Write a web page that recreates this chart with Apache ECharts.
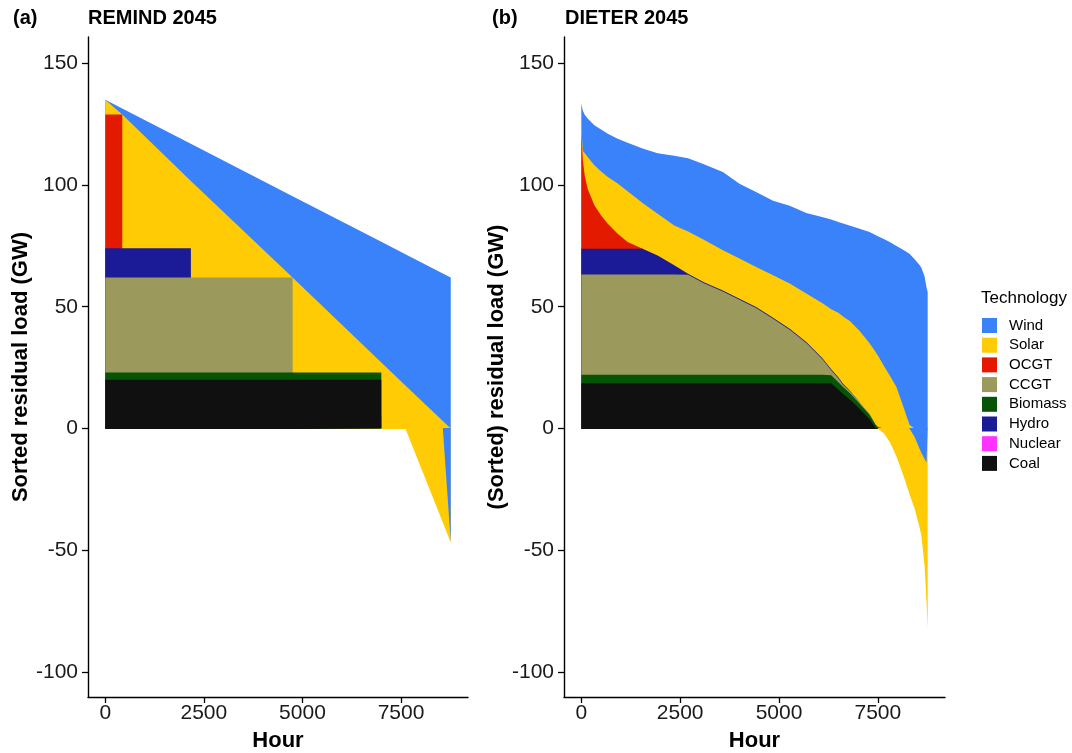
<!DOCTYPE html>
<html><head><meta charset="utf-8">
<script src="https://cdn.jsdelivr.net/npm/echarts@6/dist/echarts.min.js"></script>
<style>html,body{margin:0;padding:0;background:#fff}#c{width:1072px;height:753px}</style>
</head><body><div id="c"></div>
<script>
// ---------- legend / technologies ----------
const technologies = ['Wind', 'Solar', 'OCGT', 'CCGT', 'Biomass', 'Hydro', 'Nuclear', 'Coal'];
const stackOrder = ['Coal', 'Biomass', 'CCGT', 'Hydro', 'OCGT', 'Solar', 'Wind']; // bottom -> top
const xTicks = [0, 2500, 5000, 7500];
const yTicks = [-100, -50, 0, 50, 100, 150];

// ---------- panel (a) REMIND 2045 (GW per technology at each hour) ----------
const remindHours   = [0, 430, 431, 2170, 2171, 4750, 4751, 7000, 7001, 7610, 8560, 8760];
const remindCoal    = [20, 20, 20, 20, 20, 20, 20, 20, 0, 0, 0, 0];
const remindBiomass = [3, 3, 3, 3, 3, 3, 3, 3, 0, 0, 0, 0];
const remindCCGT    = [39, 39, 39, 39, 39, 39, 0, 0, 0, 0, 0, 0];
const remindHydro   = [12, 12, 12, 12, 0, 0, 0, 0, 0, 0, 0, 0];
const remindOCGT    = [55, 55, 0, 0, 0, 0, 0, 0, 0, 0, 0, 0];
const remindSolar   = [6, 0, 54.4, 27.6, 39.5, 0, 38.8, 4.1, 27.1, 17.7, 3.1, 0];
const remindWind    = [0, 2.4, 3.1, 15.4, 15.4, 33.4, 33.6, 49.6, 49.6, 53.9, 60.6, 62];
const remindWindNeg  = [0, 0, 0, 0, 0, 0, 0, 0, 0, 0, 0, -46.5];
const remindSolarNeg = [0, 0, 0, 0, 0, 0, 0, 0, 0, 0, -38.6, -0.3];

// ---------- panel (b) DIETER 2045 ----------
const dieterHours = [0, 40, 90, 160, 330, 500, 670, 920, 1170, 1550, 1930, 2350, 2700, 3100, 3580, 4000, 4420, 4850, 5270, 5690,
  6110, 6150, 6320, 6500, 6620, 6800, 7040, 7290, 7440, 7500, 7650, 7800, 7970, 8050, 8180, 8220, 8300, 8430, 8560, 8600, 8680, 8730, 8760];
const dieterCoal = [18.6, 18.6, 18.6, 18.6, 18.6, 18.6, 18.6, 18.6, 18.6, 18.6, 18.6, 18.6, 18.6, 18.6, 18.6, 18.6, 18.6, 18.6, 18.6, 18.6,
  18.6, 18.6, 18.6, 16, 14.2, 11.8, 8, 3.8, 0.3, 0, 0, 0, 0, 0, 0, 0, 0, 0, 0, 0, 0, 0, 0];
const dieterBiomass = [3.5, 3.5, 3.5, 3.5, 3.5, 3.5, 3.5, 3.5, 3.5, 3.5, 3.5, 3.5, 3.5, 3.5, 3.5, 3.5, 3.5, 3.5, 3.5, 3.5,
  3.5, 3.5, 3.3, 3, 2.8, 2.6, 2.2, 1.8, 1.2, 0.5, 0, 0, 0, 0, 0, 0, 0, 0, 0, 0, 0, 0, 0];
const dieterCCGT = [41.1, 41.1, 41.1, 41.1, 41.1, 41.1, 41.1, 41.1, 41.1, 41.1, 41.1, 41.1, 41.0, 37.6, 34.2, 30.8, 27.4, 23, 18.5, 13,
  6.1, 5.5, 2.0, 1.6, 1.0, 0.8, 0.6, 0.4, 0.3, 0.2, 0, 0, 0, 0, 0, 0, 0, 0, 0, 0, 0, 0, 0];
const dieterHydro = [10.6, 10.6, 10.6, 10.6, 10.6, 10.6, 10.6, 10.6, 10.6, 10.6, 7.9, 3.8, 0.5, 0.4, 0.4, 0.4, 0.4, 0.4, 0.4, 0.4,
  0.4, 0.4, 0.4, 0.4, 0.4, 0.2, 0, 0, 0, 0, 0, 0, 0, 0, 0, 0, 0, 0, 0, 0, 0, 0, 0];
const dieterOCGT = [48, 36.2, 29.7, 24.7, 17.9, 13.7, 10.3, 6.2, 2.8, 0, 0, 0, 0, 0, 0, 0, 0, 0, 0, 0,
  0, 0, 0, 0, 0, 0, 0, 0, 0, 0, 0, 0, 0, 0, 0, 0, 0, 0, 0, 0, 0, 0, 0];
const dieterSolar = [1.4, 4, 9.5, 13, 16.4, 18.1, 19.2, 20.6, 20.8, 18.8, 17.1, 16.4, 17.3, 17.4, 16.5, 16.5, 16.4, 17.4, 18.5, 19.9,
  22.7, 22.9, 24.7, 26.5, 27.6, 28.6, 29.2, 29, 29.7, 29.3, 25.8, 21.8, 17, 13.3, 7.3, 5.3, 1.5, 0, 0, 0, 0, 0, 0];
const dieterWind = [10.2, 16.5, 15.8, 15.8, 16.4, 17.2, 17.8, 18.4, 20, 22.4, 24.8, 28.6, 30.1, 31, 32.1, 30.7, 30.8, 30.6, 32, 33.1,
  35.5, 35.7, 36.8, 37.3, 38.2, 39.3, 42, 45.7, 48, 49, 52, 54.8, 58, 60.9, 65.7, 67.3, 70.3, 69.5, 67, 66, 62.5, 58, 56];
const dieterWindNeg = [0, 0, 0, 0, 0, 0, 0, 0, 0, 0, 0, 0, 0, 0, 0, 0, 0, 0, 0, 0,
  0, 0, 0, 0, 0, 0, 0, 0, 0, 0, 0, 0, 0, 0, 0, 0, 0, -3.5, -8.5, -10, -12.5, -14, -14.5];
const dieterSolarNeg = [0, 0, 0, 0, 0, 0, 0, 0, 0, 0, 0, 0, 0, 0, 0, 0, 0, 0, 0, 0,
  0, 0, 0, 0, 0, 0, 0, 0, 0, 0, -2, -5.5, -11.5, -15, -21, -23, -27, -29.5, -32.5, -34, -43.5, -57, -67.5];

// ---------- styling ----------
const colors = {
  Wind: '#3A82FA', Solar: '#FFCB05', OCGT: '#E31A00', CCGT: '#9B995C',
  Biomass: '#065406', Hydro: '#1B1A97', Nuclear: '#FF33FF', Coal: '#101010'
};
const FONT = '"Liberation Sans", Arial, Helvetica, sans-serif';

const panels = [
  { hours: remindHours,
    pos: { Coal: remindCoal, Biomass: remindBiomass, CCGT: remindCCGT, Hydro: remindHydro, OCGT: remindOCGT, Solar: remindSolar, Wind: remindWind },
    neg: { Wind: remindWindNeg, Solar: remindSolarNeg } },
  { hours: dieterHours,
    pos: { Coal: dieterCoal, Biomass: dieterBiomass, CCGT: dieterCCGT, Hydro: dieterHydro, OCGT: dieterOCGT, Solar: dieterSolar, Wind: dieterWind },
    neg: { Wind: dieterWindNeg, Solar: dieterSolarNeg } }
];

// keep a point only where the layer (or a neighbour) is non-zero, so no zero-height slivers are painted
function layerData(hours, own, cumVals) {
  return hours.map((h, i) => {
    const active = own[i] !== 0 || (i > 0 && own[i - 1] !== 0) || (i < own.length - 1 && own[i + 1] !== 0);
    return active ? [h, +cumVals[i].toFixed(3)] : [h, null];
  });
}

function areaSeries(name, idx, data, z, origin) {
  return {
    type: 'line', name: name, xAxisIndex: idx, yAxisIndex: idx,
    data: data, connectNulls: false,
    showSymbol: false, symbol: 'none', silent: true, animation: false,
    lineStyle: { width: 0, opacity: 0 },
    itemStyle: { color: colors[name] },
    areaStyle: { color: colors[name], opacity: 1, origin: origin },
    z: z
  };
}

const series = [];
panels.forEach((p, idx) => {
  // cumulative stack of positive parts (bottom -> top), painted from the top layer downwards
  let acc = p.hours.map(() => 0);
  const cum = [];
  stackOrder.forEach(name => {
    acc = acc.map((v, i) => v + p.pos[name][i]);
    cum.push({ name: name, own: p.pos[name], vals: acc.slice() });
  });
  let z = 2;
  cum.slice().reverse().forEach(c => series.push(areaSeries(c.name, idx, layerData(p.hours, c.own, c.vals), z++, -0.2)));
  // negative parts: Wind nearest zero, Solar below it
  const negTotal = p.hours.map((h, i) => p.neg.Wind[i] + p.neg.Solar[i]);
  series.push(areaSeries('Solar', idx, layerData(p.hours, negTotal, negTotal), z++, 0.2));
  series.push(areaSeries('Wind', idx, layerData(p.hours, p.neg.Wind, p.neg.Wind), z++, 0.2));
});
series.push({ type: 'line', name: 'Nuclear', data: [], xAxisIndex: 0, yAxisIndex: 0, itemStyle: { color: colors.Nuclear } });

const axisCommon = {
  axisLine: { show: true, onZero: false, lineStyle: { color: '#000', width: 1.4 } },
  splitLine: { show: false },
  nameLocation: 'middle',
  nameTextStyle: { fontFamily: FONT, fontWeight: 'bold', fontSize: 22, color: '#000' }
};
function xAxis(idx) {
  return Object.assign({}, axisCommon, {
    type: 'value', gridIndex: idx, min: -438, max: 9198, name: 'Hour', nameGap: 33,
    axisTick: { show: true, customValues: xTicks, length: 6, lineStyle: { color: '#000', width: 1.3 } },
    axisLabel: { customValues: xTicks, formatter: v => String(v), fontFamily: FONT, fontSize: 21, color: '#1a1a1a', margin: 6 }
  });
}
function yAxis(idx, name) {
  return Object.assign({}, axisCommon, {
    type: 'value', gridIndex: idx, min: -110.3, max: 160.8, name: name, nameGap: 56,
    axisTick: { show: true, customValues: yTicks, length: 6, lineStyle: { color: '#000', width: 1.3 } },
    axisLabel: { customValues: yTicks, formatter: v => String(v), fontFamily: FONT, fontSize: 21, color: '#1a1a1a', margin: 10 }
  });
}

const titleStyle = (size, weight) => ({ fontFamily: FONT, fontWeight: weight, fontSize: size, color: '#000' });
const chart = echarts.init(document.getElementById('c'), null, { renderer: 'canvas' });
chart.setOption({
  backgroundColor: '#fff',
  animation: false,
  title: [
    { text: '(a)', left: 13, top: 8, padding: 0, textStyle: titleStyle(20, 'bold') },
    { text: 'REMIND 2045', left: 88, top: 8, padding: 0, textStyle: titleStyle(20, 'bold') },
    { text: '(b)', left: 492, top: 8, padding: 0, textStyle: titleStyle(20, 'bold') },
    { text: 'DIETER 2045', left: 565, top: 8, padding: 0, textStyle: titleStyle(20, 'bold') },
    { text: 'Technology', left: 981, top: 290, padding: 0, textStyle: titleStyle(17, 'normal') }
  ],
  grid: [
    { left: 88, top: 37, width: 380, height: 660, containLabel: false, outerBoundsMode: 'none' },
    { left: 564, top: 37, width: 381, height: 660, containLabel: false, outerBoundsMode: 'none' }
  ],
  xAxis: [xAxis(0), xAxis(1)],
  yAxis: [yAxis(0, 'Sorted residual load (GW)'), yAxis(1, '(Sorted) residual load (GW)')],
  legend: {
    orient: 'vertical', left: 982, top: 318, padding: 0, itemWidth: 15, itemHeight: 15, itemGap: 4.7,
    icon: 'rect', selectedMode: false,
    textStyle: { fontFamily: FONT, fontSize: 15, color: '#000', padding: [0, 0, 0, 7] },
    data: technologies.map(n => ({ name: n, icon: 'rect', itemStyle: { color: colors[n], opacity: 1 } }))
  },
  series: series
});
</script>
</body></html>
